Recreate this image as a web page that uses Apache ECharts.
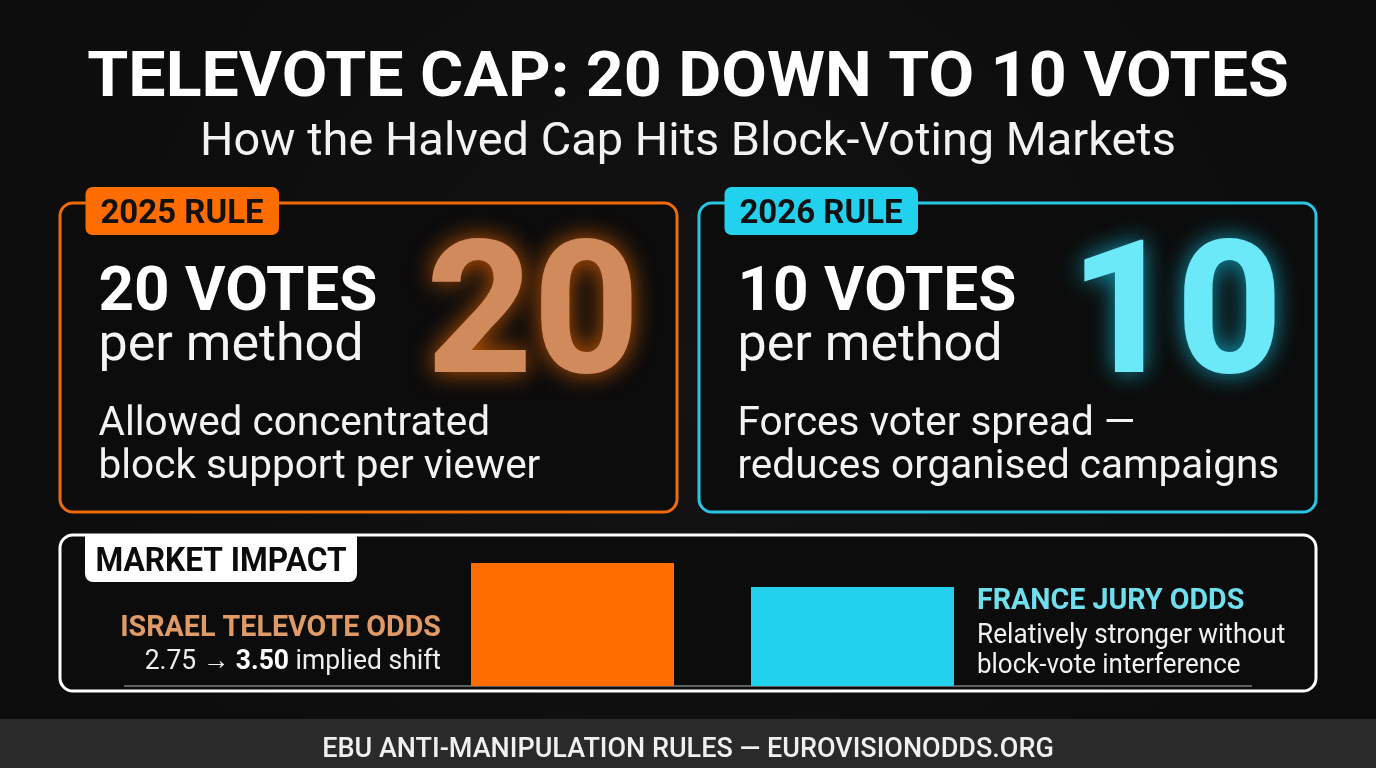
<!DOCTYPE html>
<html>
<head>
<meta charset="utf-8">
<title>Televote cap</title>
<style>
html, body { margin: 0; padding: 0; background: #111; }
#chart { width: 1376px; height: 768px; }
</style>
<script src="https://cdn.jsdelivr.net/npm/echarts@6/dist/echarts.min.js"></script>
</head>
<body>
<div id="chart"></div>
<script>
// bar data
var categories = ['ISRAEL TELEVOTE ODDS', 'FRANCE JURY ODDS'];
var oddsValues = [3.5, 2.82];
var barColors = ['#ff6d00', '#22d1ee'];

var titleText = 'TELEVOTE CAP: 20 DOWN TO 10 VOTES';
var subtitleText = 'How the Halved Cap Hits Block-Voting Markets';
var footerText = 'EBU ANTI-MANIPULATION RULES \u2014 EUROVISIONODDS.ORG';
var ruleBadges = ['2025 RULE', '2026 RULE'];
var ruleHeads = ['20 VOTES', '10 VOTES'];
var ruleBig = ['20', '10'];
var ruleSubs = ['per method', 'per method'];
var ruleNotes = [
    ['Allowed concentrated', 'block support per viewer'],
    ['Forces voter spread \u2014', 'reduces organised campaigns']
];

var FONT = 'Roboto, sans-serif';

// sx squeezes or stretches the text sideways, the reference type is not quite Roboto's width
function txt(text, x, y, size, weight, color, align, sx, extra) {
    var style = {
        text: text,
        x: 0,
        y: 0,
        fill: color,
        font: weight + ' ' + size + 'px ' + FONT,
        align: align || 'left',
        verticalAlign: 'middle'
    };
    if (extra) {
        for (var k in extra) style[k] = extra[k];
    }
    return {type: 'text', z: 10, x: x, y: y, scaleX: sx || 1, style: style};
}

function box(x, y, w, h, r, fill, stroke, lw) {
    return {
        type: 'rect',
        z: 1,
        shape: {x: x, y: y, width: w, height: h, r: r},
        style: {fill: fill, stroke: stroke || null, lineWidth: lw || 0}
    };
}

var g = [];

// footer strip
g.push(box(0, 719, 1376, 49, 0, '#2a2a2a'));

// headline
g.push(txt(titleText, 688, 80, 63, 700, '#ffffff', 'center', 1.052));
g.push(txt(subtitleText, 688, 143, 46, 400, '#f2f2f2', 'center', 1.02));
g.push(txt(footerText, 688, 750, 27, 500, '#f0f0f0', 'center'));

// the two rule panels
var panelX = [60, 699];
var panelStroke = ['#f06a0a', '#29c5e2'];
var glowFill = ['#d08a5c', '#6ce9f9'];
var glowShadow = ['rgba(255,109,0,0.75)', 'rgba(18,200,232,0.75)'];
for (var i = 0; i < 2; i++) {
    var px = panelX[i];
    g.push(box(px, 203, 617, 309, 13, '#0c0c0c', panelStroke[i], 3));
    g.push({
        type: 'rect',
        z: 2,
        shape: {x: px + 25.5, y: 187, width: 193.5, height: 48, r: 7},
        style: {fill: barColors[i]}
    });
    g.push(txt(ruleBadges[i], px + 122, 214, 34, 700, '#111111', 'center', 0.97));
    g.push(txt(ruleHeads[i], px + 38.5, 294, 62, 700, '#ffffff'));
    g.push(txt(ruleSubs[i], px + 38.5, 347, 52, 400, '#f4f4f4'));
    g.push(txt(ruleNotes[i][0], px + 38.5, 425, 40.5, 400, '#f2f2f2'));
    g.push(txt(ruleNotes[i][1], px + 38.5, 468, 40.5, 400, '#f2f2f2'));
    g.push(txt(ruleBig[i], i === 0 ? 533 : 1176, 326, 185, 800, glowFill[i], 'center', 1, {
        textShadowBlur: 24,
        textShadowColor: glowShadow[i]
    }));
}

// market impact panel
g.push(box(60, 535, 1256, 156, 13, '#0c0c0c', '#ffffff', 3));
g.push({
    type: 'rect',
    z: 2,
    shape: {x: 85, y: 535, width: 272, height: 47, r: [0, 0, 8, 8]},
    style: {fill: '#ffffff'}
});
g.push(txt('MARKET IMPACT', 221, 563, 33, 700, '#0c0c0c', 'center', 0.96));

g.push(txt(categories[0], 441, 628, 30, 700, '#e09a66', 'right', 0.955));
g.push({
    type: 'text',
    z: 10,
    x: 441,
    y: 662,
    scaleX: 0.98,
    style: {
        text: '{n|2.75 \u2192 }{b|3.50}{n| implied shift}',
        x: 0,
        y: 0,
        align: 'right',
        verticalAlign: 'middle',
        rich: {
            n: {font: '400 27px ' + FONT, fill: '#eeeeee'},
            b: {font: '700 27px ' + FONT, fill: '#ffffff'}
        }
    }
});
g.push(txt(categories[1], 977, 601, 30, 700, '#6fdfee', 'left', 0.954));
g.push(txt('Relatively stronger without', 977, 636, 27, 400, '#f0f0f0', 'left', 0.97));
g.push(txt('block-vote interference', 977, 666, 27, 400, '#f0f0f0', 'left', 0.96));

// baseline runs wider than the bar grid
g.push({
    type: 'line',
    z: 3,
    shape: {x1: 124, y1: 686, x2: 1252, y2: 686},
    style: {stroke: '#7d7d7d', lineWidth: 1.5}
});

var myChart = echarts.init(document.getElementById('chart'));
var option = {
    backgroundColor: {
        type: 'radial', x: 0.5, y: 0.5, r: 0.75,
        colorStops: [{offset: 0, color: '#131313'}, {offset: 1, color: '#0d0d0d'}]
    },
    animation: false,
    grid: {left: 432.5, width: 560, top: 563, height: 123},
    xAxis: {
        type: 'category',
        data: categories,
        axisLine: {show: false},
        axisTick: {show: false},
        axisLabel: {show: false}
    },
    yAxis: {
        type: 'value',
        min: 0,
        max: 3.5,
        show: false
    },
    graphic: {elements: g},
    series: [{
        type: 'bar',
        z: 5,
        barWidth: 203,
        data: oddsValues.map(function (v, i) {
            return {value: v, itemStyle: {color: barColors[i]}};
        })
    }]
};
myChart.setOption(option);
</script>
</body>
</html>
